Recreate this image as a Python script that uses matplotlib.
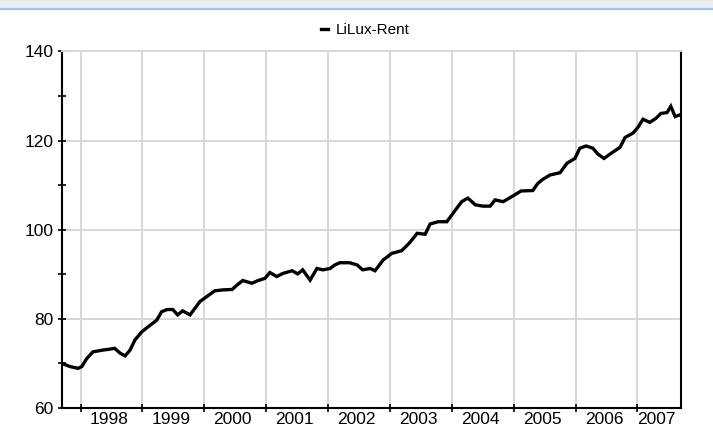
import matplotlib
matplotlib.use("Agg")
import matplotlib.pyplot as plt
from matplotlib.patches import Rectangle
from matplotlib.lines import Line2D

plt.rcParams['font.family'] = ['Liberation Sans', 'DejaVu Sans']

# LiLux-Rent index, decimal year vs. value
years = [1997.70, 1997.83, 1997.96, 1998.02, 1998.10, 1998.20, 1998.36, 1998.47,
         1998.55, 1998.64, 1998.72, 1998.80, 1998.88, 1998.99, 1999.09, 1999.23,
         1999.31, 1999.40, 1999.49, 1999.57, 1999.65, 1999.77, 1999.85, 1999.93,
         2000.04, 2000.17, 2000.30, 2000.45, 2000.53, 2000.62, 2000.77, 2000.87,
         2000.98, 2001.06, 2001.17, 2001.27, 2001.42, 2001.51, 2001.59, 2001.71,
         2001.82, 2001.92, 2002.03, 2002.11, 2002.19, 2002.35, 2002.47, 2002.56,
         2002.68, 2002.76, 2002.89, 2003.03, 2003.19, 2003.32, 2003.44, 2003.57,
         2003.65, 2003.78, 2003.92, 2004.02, 2004.16, 2004.26, 2004.38, 2004.50,
         2004.62, 2004.70, 2004.83, 2004.99, 2005.12, 2005.31, 2005.39, 2005.47,
         2005.59, 2005.75, 2005.86, 2005.99, 2006.07, 2006.17, 2006.28, 2006.36,
         2006.46, 2006.57, 2006.72, 2006.80, 2006.93, 2007.01, 2007.09, 2007.20,
         2007.30, 2007.38, 2007.48, 2007.54, 2007.61, 2007.69]
values = [70.0, 69.3, 68.9, 69.3, 71.1, 72.6, 73.0, 73.2,
          73.4, 72.3, 71.7, 73.0, 75.3, 77.1, 78.2, 79.7,
          81.6, 82.1, 82.1, 80.9, 81.8, 80.9, 82.4, 83.9,
          85.0, 86.3, 86.5, 86.6, 87.6, 88.6, 88.0, 88.6,
          89.1, 90.4, 89.5, 90.2, 90.8, 90.1, 91.0, 88.7,
          91.3, 91.0, 91.3, 92.1, 92.6, 92.6, 92.1, 91.0,
          91.3, 90.8, 93.2, 94.7, 95.3, 97.1, 99.2, 99.0,
          101.3, 101.8, 101.8, 103.7, 106.3, 107.1, 105.6, 105.3,
          105.3, 106.7, 106.3, 107.6, 108.7, 108.8, 110.4, 111.3,
          112.3, 112.8, 114.9, 116.0, 118.3, 118.8, 118.3, 117.0,
          116.0, 117.1, 118.5, 120.7, 121.7, 123.0, 124.8, 124.1,
          125.0, 126.1, 126.3, 127.7, 125.4, 125.8]
year_labels = list(range(1998, 2008))
series_name = 'LiLux-Rent'

x0, x1 = 1997.70, 2007.70

fig = plt.figure(figsize=(7.13, 4.26), dpi=100)

# header strip of the source page
fig.patches.append(Rectangle((0, 1 - 8 / 426), 1, 8 / 426, transform=fig.transFigure,
                             facecolor='#ededed', edgecolor='none'))
fig.lines.append(Line2D([0, 1], [1 - 8.5 / 426] * 2, transform=fig.transFigure,
                        color='#9dc3f0', lw=1.6))

ax = fig.add_axes([62 / 713, 1 - 408 / 426, (680.7 - 62) / 713, (408 - 51.5) / 426])

ax.plot(years, values, color='black', lw=2.4, solid_joinstyle='miter', label=series_name)

ax.set_xlim(x0, x1)
ax.set_ylim(60, 140)

# y axis
ax.set_yticks([60, 80, 100, 120, 140])
ax.set_yticks([70, 90, 110, 130], minor=True)
ax.tick_params(axis='y', which='both', direction='inout', length=6, width=1.2,
               labelsize=12.5, pad=3, colors='black')

# x axis: ticks at year starts, labels in the middle of each year
ax.set_xticks(year_labels)
ax.set_xticklabels([])
mids = [(max(y, x0) + min(y + 1, x1)) / 2 - 0.04 for y in year_labels]
ax.set_xticks(mids, minor=True)
ax.set_xticklabels([str(y) for y in year_labels], minor=True)
ax.tick_params(axis='x', which='major', direction='inout', length=6, width=1.2)
ax.tick_params(axis='x', which='minor', length=0, labelsize=12.5, pad=3)

ax.grid(True, which='major', color='#d6d6d6', lw=1.4)
ax.set_axisbelow(True)

for side in ['left', 'bottom', 'right']:
    ax.spines[side].set_linewidth(1.5)
    ax.spines[side].set_color('black')
ax.spines['top'].set_color('#d6d6d6')
ax.spines['top'].set_linewidth(1.4)

ax.legend(loc='lower center', bbox_to_anchor=(0.49, 1.01), frameon=False,
          handlelength=0.5, handletextpad=0.5, fontsize=11, borderaxespad=0.3)

fig.savefig('out.png', dpi=100)
